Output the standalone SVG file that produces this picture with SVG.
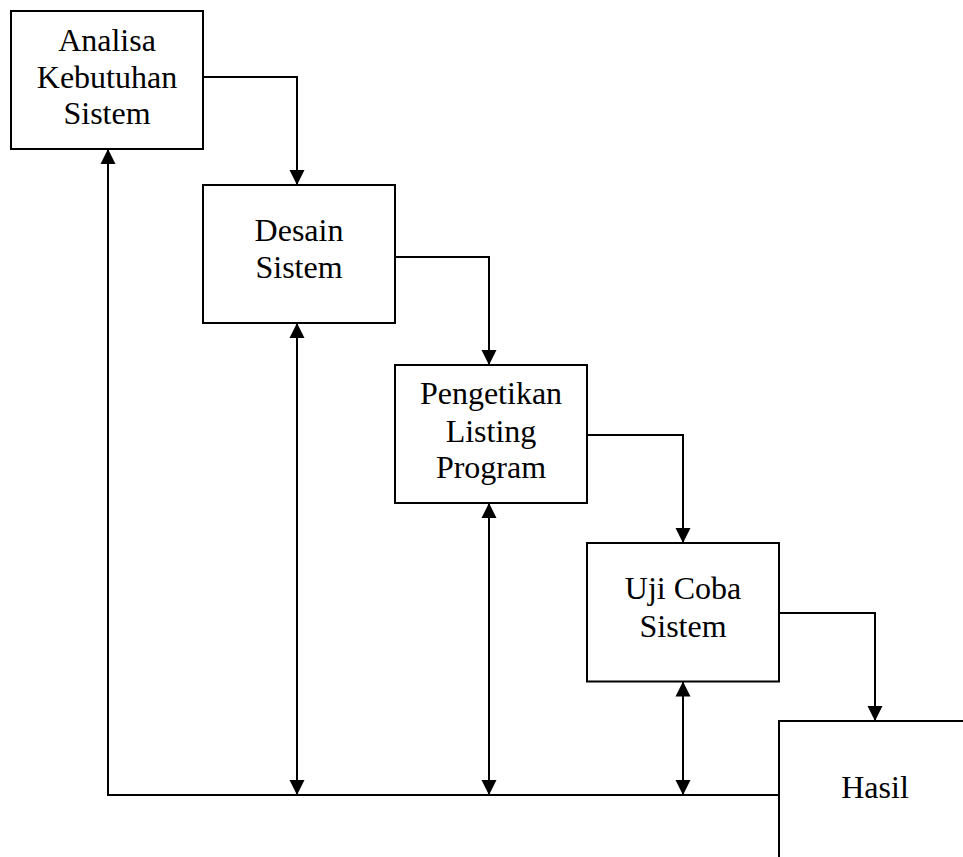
<svg xmlns="http://www.w3.org/2000/svg" width="963" height="857" viewBox="0 0 963 857">
<style>
.box{fill:#fff;stroke:#000;stroke-width:2}
.lbl{font-family:"Liberation Serif","Times New Roman",serif;font-size:32px;fill:#000;text-anchor:middle}
.con{fill:none;stroke:#000;stroke-width:2}
.arr{marker-end:url(#ah)}
.dbl{marker-start:url(#ah);marker-end:url(#ah)}
</style>
<defs>
<marker id="ah" markerUnits="userSpaceOnUse" markerWidth="16" markerHeight="16" viewBox="0 0 16 16" refX="15" refY="8" orient="auto-start-reverse">
<path d="M0,0.5 L15,8 L0,15.5 Z" fill="#000"/>
</marker>
</defs>
<rect width="963" height="857" fill="#fff"/>
<g id="connectors">
<path class="con arr" d="M203,77 H297 V185"/>
<path class="con arr" d="M395,257 H489 V365"/>
<path class="con arr" d="M587,435 H683 V543"/>
<path class="con arr" d="M779,613 H875 V721"/>
<path class="con arr" d="M779,795 H108 V149"/>
<path class="con dbl" d="M297,323 V795"/>
<path class="con dbl" d="M489,503 V795"/>
<path class="con dbl" d="M683,681.5 V795"/>
</g>
<g id="analisa">
<rect class="box" x="11" y="11" width="192" height="138"/>
<text class="lbl" x="107" y="51">Analisa</text>
<text class="lbl" x="107" y="87.5">Kebutuhan</text>
<text class="lbl" x="107" y="124">Sistem</text>
</g>
<g id="desain">
<rect class="box" x="203" y="185" width="192" height="138"/>
<text class="lbl" x="299" y="241">Desain</text>
<text class="lbl" x="299" y="278">Sistem</text>
</g>
<g id="pengetikan">
<rect class="box" x="395" y="365" width="192" height="138"/>
<text class="lbl" x="491" y="404">Pengetikan</text>
<text class="lbl" x="491" y="441.5">Listing</text>
<text class="lbl" x="491" y="478">Program</text>
</g>
<g id="ujicoba">
<rect class="box" x="587" y="543" width="192" height="138.5"/>
<text class="lbl" x="683" y="598.5">Uji Coba</text>
<text class="lbl" x="683" y="636.5">Sistem</text>
</g>
<g id="hasil">
<rect class="box" x="779" y="721" width="250" height="200"/>
<text class="lbl" x="875" y="798">Hasil</text>
</g>
</svg>
